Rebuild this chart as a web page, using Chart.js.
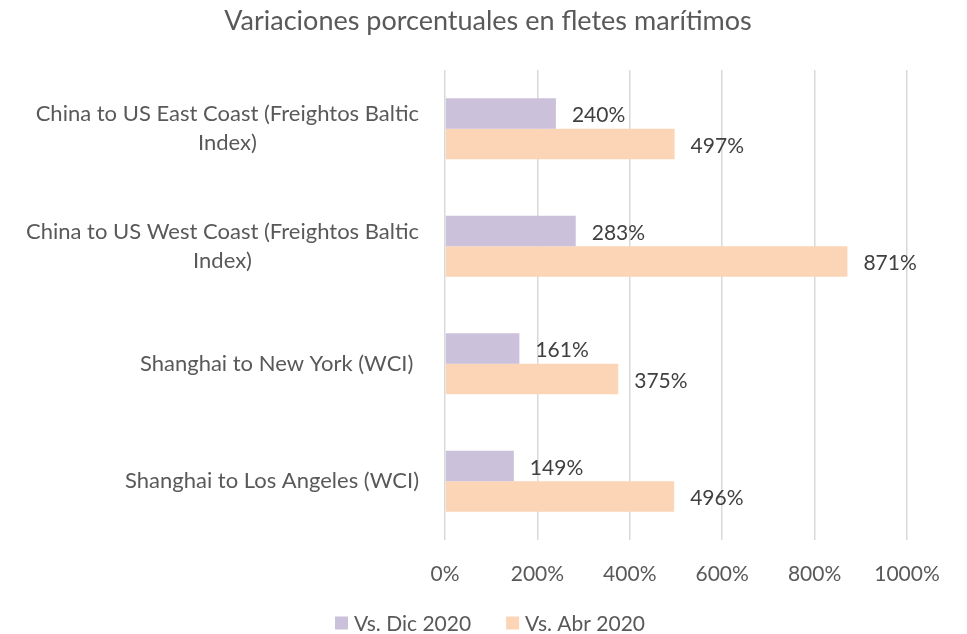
<!DOCTYPE html>
<html>
<head>
<meta charset="utf-8">
<script src="https://cdn.jsdelivr.net/npm/chart.js@4"></script>
<style>
html,body{margin:0;padding:0;background:#fff;}
#wrap{width:967px;height:634px;}
</style>
</head>
<body>
<div id="wrap"><canvas id="mainChart"></canvas></div>
<script>
// ================= DATA =================
let categories = [
["China to US East Coast (Freightos Baltic","Index)"],
["China to US West Coast (Freightos Baltic","Index)"],
"Shanghai to New York (WCI) ",
"Shanghai to Los Angeles (WCI)"
]
let vsDic2020 = [240, 283, 161, 149]
let vsAbr2020 = [497, 871, 375, 496]
let seriesNames = ["Vs. Dic 2020", "Vs. Abr 2020"]
let seriesColors = ["#CCC1DA", "#FBD5B5"]
let chartTitle = "Variaciones porcentuales en fletes marítimos"

let FONT = "Lato, 'Open Sans', sans-serif"

// value labels at bar ends
let barLabels = {
id:"barLabels",
afterDatasetsDraw(chart){
let ctx = chart.ctx
ctx.save()
ctx.font = "21px " + FONT
ctx.fillStyle = "#404040"
ctx.textAlign = "left"
ctx.textBaseline = "middle"
chart.data.datasets.forEach((ds,i)=>{
let meta = chart.getDatasetMeta(i)
meta.data.forEach((bar,j)=>{
ctx.fillText(ds.data[j] + "%", bar.x + 16, bar.y + 2)
})
})
ctx.restore()
}
}

// 🔥 category labels: block right aligned, lines centered inside block (like Excel)
// + title and legend placed like the Excel original
let extras = {
id:"extras",
afterDraw(chart){
let ctx = chart.ctx
let y = chart.scales.y
ctx.save()
ctx.fillStyle = "#595959"
ctx.textBaseline = "middle"

// categories
ctx.font = "22px " + FONT
ctx.textAlign = "center"
let right = chart.chartArea.left - 26
categories.forEach((c,i)=>{
let lines = Array.isArray(c) ? c : [c]
let w = Math.max(...lines.map(l=>ctx.measureText(l).width))
let cx = right - w/2
let lh = 29
let cy = y.getPixelForTick(i) - (lines.length-1)*lh/2
lines.forEach((l,k)=>{
ctx.fillText(l, cx, cy + k*lh)
})
})

// title
ctx.font = "27px " + FONT
ctx.fillText(chartTitle, 488, 21)

// legend
ctx.font = "21px " + FONT
ctx.textAlign = "left"
let box = 13, gapTxt = 6, gapItem = 35
let widths = seriesNames.map(n=>box + gapTxt + ctx.measureText(n).width)
let total = widths.reduce((a,b)=>a+b,0) + gapItem*(seriesNames.length-1)
let x = 490 - total/2
let ly = 623
seriesNames.forEach((n,i)=>{
ctx.fillStyle = seriesColors[i]
ctx.fillRect(x, ly - box/2, box, box)
ctx.fillStyle = "#595959"
ctx.fillText(n, x + box + gapTxt, ly + 1)
x += widths[i] + gapItem
})
ctx.restore()
}
}

let ctx = document.getElementById("mainChart")

new Chart(ctx,{
type:"bar",
data:{
labels:categories,
datasets:[
{label:seriesNames[0], data:vsDic2020, backgroundColor:seriesColors[0]},
{label:seriesNames[1], data:vsAbr2020, backgroundColor:seriesColors[1]}
]
},
options:{
indexAxis:"y",
responsive:true,
maintainAspectRatio:false,
animation:false,
datasets:{bar:{categoryPercentage:0.52, barPercentage:1}},
layout:{padding:{left:0, right:60, top:70, bottom:44}},
scales:{
x:{
min:0, max:1000,
ticks:{stepSize:200, callback:v=>v+"%", color:"#595959", font:{size:21, family:FONT}, padding:22},
grid:{color:"#D9D9D9", lineWidth:1.5, drawTicks:false},
border:{display:false},
afterFit(s){ s.height = 50 }
},
y:{
ticks:{display:false},
grid:{display:false},
border:{display:false},
afterFit(s){ s.width = 445 }
}
},
plugins:{
title:{display:false},
legend:{display:false},
tooltip:{enabled:false}
}
},
plugins:[barLabels, extras]
})
</script>
</body>
</html>
